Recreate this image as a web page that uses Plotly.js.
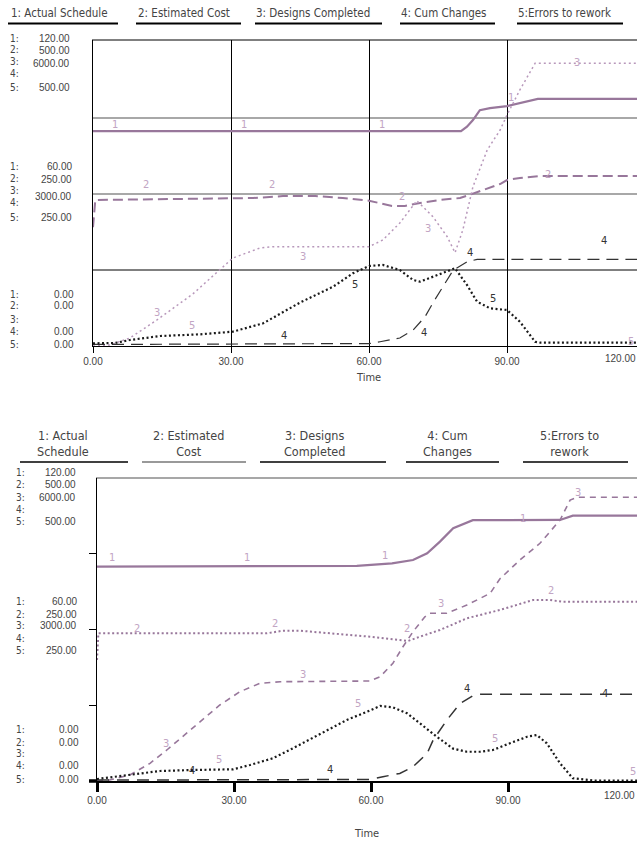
<!DOCTYPE html>
<html><head><meta charset="utf-8">
<script src="https://cdn.plot.ly/plotly-3.0.1.min.js"></script>
<style>html,body{margin:0;padding:0;overflow:hidden;background:#fff;width:637px;height:842px}#chart{width:660px;height:842px}</style>
</head><body><div id="chart"></div>
<script>
// ---------------- DATA ----------------
const seriesNames = ["1: Actual Schedule","2: Estimated Cost","3: Designs Completed","4: Cum Changes","5:Errors to rework"];
const seriesNamesWrapped = ["1: Actual<br>Schedule","2: Estimated<br>Cost","3: Designs<br>Completed","4: Cum<br>Changes","5:Errors to<br>rework"];
const scaleMax = [120, 500, 6000, 100, 500];
const scaleTop = ["120.00","500.00","6000.00","","500.00"];
const scaleMid = ["60.00","250.00","3000.00","","250.00"];
const scaleLow = ["0.00","0.00","","0.00","0.00"];
const xTickVals = [0,30,60,90];
const xTickText = ["0.00","30.00","60.00","90.00"];
const xLastTick = "120.00";
const xTitle = "Time";

// upper chart
const topT1 = [0,80,81.3,82.6,84.1,86.3,90,92.8,96.7,120];
const topV1 = [84.3,84.3,86,88.6,92.5,93.3,94.1,95.3,96.9,96.9];
const topT2 = [0,0.5,34.8,41.3,48.3,54.3,60,65,67.8,71.1,75.4,79.8,83,88.5,90,92.8,97.2,120];
const topV2 = [194,238.6,241.8,245,245,241.8,237.4,228.8,228.8,233.7,238.6,241.8,250,264.7,271.2,274.5,277.8,277.8];
const topT3 = [0,3.7,8,13.9,21.7,27.6,30.4,36.3,39.1,60,63,66.7,70.4,73.9,77,78.7,80.4,82.6,85.7,88.5,90,92.8,96.1,120];
const topV3 = [0,20,157,510,1020,1490,1725,1922,1947,1947,2078,2412,2849,2535,2143,1829,2275,3124,3843,4235,4529,5020,5543,5543];
const topT4 = [0,60,62.4,66.7,69.6,72.2,73.9,76.1,78.3,81.3,83.5,120];
const topV4 = [0.5,0.8,1.4,2.6,5.2,9.6,14.1,19.4,24.8,27.5,28.3,28.3];
const topT5 = [0,4.8,8,14.6,23.3,30.4,37,41.3,45,52.2,56.5,60,63,66.7,69.6,71.1,73.9,77,78.7,81.3,83.5,86.3,90,92.8,96.1,97.2,120];
const topV5 = [4.4,4.9,9.8,16.3,19.1,23.4,37.1,56,71,96.9,118.8,130.7,132.4,124.2,107.8,105.1,113.2,121.4,127,99.7,72.4,61.6,58.8,39.7,7,5.5,5.5];

// lower chart
const botT1 = [0,56.9,64.6,69.2,72.3,75.1,78,82.3,101.4,104.2,120];
const botV1 = [84.9,85.2,86.2,87.5,90.2,94.8,100.1,103.3,103.4,105.1,105.1];
const botT2 = [0,0.3,37.2,40.7,44.4,51.7,59.8,66.3,68.1,70.7,75.1,81,88.2,95.5,99.2,102,120];
const botV2 = [199.7,243.7,243.7,248,248,243.7,238.1,232.7,231,238.1,249.2,268.5,282.2,298.7,298.7,295.8,295.8];
const botT3 = [0,2.8,7.2,11.6,15.3,21,26.9,31.3,35.7,40.1,59.8,62,64.8,67,69.2,71.8,72.9,76.6,81,86.1,88.2,92.6,97,101.4,103.6,105.1,120];
const botV3 = [0,20,119,350,614,1044,1505,1768,1935,1966,1980,2065,2331,2659,2956,3253,3321,3321,3485,3717,4000,4376,4707,5168,5564,5618,5618];
const botT4 = [0,59.8,62.6,66.3,69.2,72.3,73.6,76.6,79.5,82.3,83.9,120];
const botV4 = [0.3,0.5,1.4,2.5,4.7,9.1,13.5,20.1,25.6,28.1,28.6,28.6];
const botT5 = [0,7.2,13.8,21,29.8,33.5,38.5,42.9,49.3,54.7,59.1,62,64.8,67.9,70.7,74.4,78,81,83.9,86.7,90.4,94.2,96.3,98.5,101.4,104.2,108.6,120];
const botV5 = [3.3,9.9,16.5,18.2,19.3,26.4,37.5,54,78.7,100.7,114.3,123.8,121.6,111.7,95.2,73.1,53.3,48.3,48.3,51.2,62.2,73.1,75.9,62.2,29.2,4.5,0.8,0.8];

// ---------------- LAYOUT / STYLE ----------------
const W = 660, H = 842;
const PURPLE = '#98779b', LPURPLE = '#b898bb', LABEL = '#c2a5c4', INK = '#1a1a1a', TXT = '#444';
const LEGF = "'Liberation Sans Narrow','DejaVu Sans Condensed','Arial Narrow',sans-serif";
const NUMF = "'Liberation Sans',Arimo,Arial,sans-serif";
const px = x => x / W, py = y => 1 - y / H;

const topStyles = [
  {color: PURPLE, width: 2.2},
  {color: PURPLE, width: 2, dash: '10px,5px'},
  {color: LPURPLE, width: 1.5, dash: '2px,3px'},
  {color: '#333', width: 1.2, dash: '12px,7px'},
  {color: INK, width: 2.2, dash: '2px,2.5px'}
];
const botStyles = [
  {color: PURPLE, width: 2.2},
  {color: PURPLE, width: 2, dash: '2px,2.5px'},
  {color: PURPLE, width: 1.6, dash: '6px,5px'},
  {color: '#333', width: 1.5, dash: '12px,8px'},
  {color: INK, width: 2.2, dash: '2px,2.5px'}
];
const topData = [[topT1,topV1],[topT2,topV2],[topT3,topV3],[topT4,topV4],[topT5,topV5]];
const botData = [[botT1,botV1],[botT2,botV2],[botT3,botV3],[botT4,botV4],[botT5,botV5]];
const topY = ['y','y3','y4','y5','y6'];
const botY = ['y2','y7','y8','y9','y10'];

const traces = [];
topData.forEach((d,i) => traces.push({x:d[0], y:d[1], xaxis:'x', yaxis:topY[i], type:'scatter', mode:'lines', line:topStyles[i], name:seriesNames[i], hoverinfo:'skip'}));
botData.forEach((d,i) => traces.push({x:d[0], y:d[1], xaxis:'x2', yaxis:botY[i], type:'scatter', mode:'lines', line:botStyles[i], name:seriesNames[i], hoverinfo:'skip'}));

const topDomY = [py(346), py(40)];
const botDomY = [py(781), py(478)];

const layout = {
  width: W, height: H, margin: {l:0,r:0,t:0,b:0}, showlegend: false,
  paper_bgcolor: '#fff', plot_bgcolor: 'rgba(0,0,0,0)',
  xaxis: {domain:[px(93), px(645)], range:[0,120], anchor:'y', showline:true, linecolor:'#000', linewidth:1,
          ticks:'outside', ticklen:6, tickwidth:1, tickcolor:'#000', tickvals:xTickVals.concat([120]), ticktext:xTickText.concat(['']),
          showgrid:true, gridcolor:'#000', gridwidth:1, zeroline:false, tickfont:{family:NUMF, size:10, color:TXT}, fixedrange:true},
  yaxis: {domain:topDomY, range:[0,scaleMax[0]], anchor:'x', showline:true, linecolor:'#000', linewidth:1, ticks:'',
          showticklabels:false, showgrid:false, zeroline:false},
  xaxis2: {domain:[px(97), px(645)], range:[0,120], anchor:'y2', showline:true, linecolor:'#000', linewidth:1.5,
          ticks:'outside', ticklen:9, tickwidth:3, tickcolor:'#000', tickvals:xTickVals.concat([120]), ticktext:xTickText.concat(['']),
          showgrid:false, zeroline:false, tickfont:{family:NUMF, size:10, color:TXT}},
  yaxis2: {domain:botDomY, range:[0,scaleMax[0]], anchor:'x2', showline:true, linecolor:'#000', linewidth:1.5,
          ticks:'outside', ticklen:7, tickwidth:1, tickcolor:'#000', tickvals:[30,60,90], showticklabels:false, showgrid:false, zeroline:false},
  shapes: [], annotations: []
};
[1,2,3,4].forEach(k => {
  layout['yaxis'+(k+2)] = {overlaying:'y', anchor:'x', range:[0,scaleMax[k]], visible:false};
  layout['yaxis'+(k+6)] = {overlaying:'y2', anchor:'x2', range:[0,scaleMax[k]], visible:false};
});

function hline(x0,x1,y,color,w){layout.shapes.push({type:'line',xref:'paper',yref:'paper',x0:px(x0),x1:px(x1),y0:py(y),y1:py(y),line:{color:color,width:w},layer:'below'});}
// upper frame / grid
hline(92, 660, 40, '#000', 1);
hline(93, 660, 118, '#a8a8a8', 2);
hline(93, 660, 194, '#a8a8a8', 2);
hline(93, 660, 270, '#000', 1);
// lower frame
hline(96, 660, 478, '#8a8a8a', 1.5);
hline(89, 98, 781, '#000', 3.5);

function txt(t,x,y,o){o=o||{};layout.annotations.push({text:t,xref:'paper',yref:'paper',x:px(x),y:py(y),xanchor:o.xa||'center',yanchor:'middle',showarrow:false,align:o.align||'center',
  borderpad:0, font:{family:o.f||NUMF,size:o.s||10,color:o.c||TXT}});}

// upper headers
const topHeadX = [10,137,255,400,517];
const topLineX = [[8,118],[136,241],[255,382],[400,495],[517,623]];
seriesNames.forEach((n,i)=>{ txt(n, topHeadX[i], 13, {xa:'left', f:LEGF, s:11.5}); hline(topLineX[i][0], topLineX[i][1], 23.5, '#000', 2); });
// lower headers
const botHeadX = [63,188,314,447,569];
const botLineX = [[20,128],[142,246],[260,386],[406,499],[523,628]];
seriesNamesWrapped.forEach((n,i)=>{ txt(n, botHeadX[i], 443, {f:LEGF, s:12.5}); hline(botLineX[i][0], botLineX[i][1], 462, i===1?'#777':'#000', 1.6); });

// scale labels
function scaleGroup(vals, ys, vys, prefX, valX){
  vals.forEach((v,i)=>{ txt((i+1)+':', prefX, ys[i], {xa:'left', f:LEGF, s:10}); if(v) txt(v, valX, vys[i], {xa:'right'}); });
}
scaleGroup(scaleTop, [38.3,50,61.8,73.3,87.3], [38.3,50.3,63,72.7,87.3], 9, 71);
scaleGroup(scaleMid, [166,178.8,190.6,202.4,217.3], [166,179.3,196.7,202.7,217.3], 9, 73);
scaleGroup(scaleLow, [294,305.7,319,331.7,344], [294,305.7,319,331.7,344], 9, 75);
scaleGroup(scaleTop, [472.3,484,497,509,521.7], [472.3,484,497.7,509,521.7], 15, 77);
scaleGroup(scaleMid, [601.7,614,625.7,638.3,650], [601.7,614,625.7,638.3,650], 15, 78);
scaleGroup(scaleLow, [729.3,742.3,753.7,765.7,779], [729.3,742.3,753.7,765.7,779], 15, 80);

// last tick labels & axis titles
txt(xLastTick, 620, 358);
txt(xLastTick, 619, 795);
txt(xTitle, 368, 378, {f:LEGF, s:11});
txt(xTitle, 366, 833, {f:LEGF, s:11});

// line number labels
const L = LABEL, D = '#333';
const topLabels = [
 ['1',115,124,L],['1',244,124,L],['1',382,124,L],['1',511,97,L],
 ['2',146,185,L],['2',272,185,L],['2',402,196,L],['2',548,174,L],
 ['3',303,256,L],['3',157,312,L],['3',428,228,L],['3',577,62,L],
 ['4',284,335,D],['4',424,332,D],['4',470,252,D],['4',604,240,D],
 ['5',192,326,L],['5',355,284,D],['5',493,298,D],['5',631,341,L]
];
const botLabels = [
 ['1',112,557,L],['1',247,557,L],['1',385,555,L],['1',523,518,L],
 ['2',137,628,L],['2',275,623,L],['2',407,628,L],['2',551,590,L],
 ['3',303,674,L],['3',166,743,L],['3',441,603,L],['3',578,493,L],
 ['4',192,770,D],['4',330,769,D],['4',467,688,D],['4',605,693,D],
 ['5',219,759,L],['5',358,703,L],['5',495,738,L],['5',633,771,L]
];
topLabels.concat(botLabels).forEach(a=>txt(a[0], a[1], a[2], {f:LEGF, s:11, c:a[3]}));

Plotly.newPlot('chart', traces, layout, {staticPlot:true, displayModeBar:false});
</script>
</body></html>
